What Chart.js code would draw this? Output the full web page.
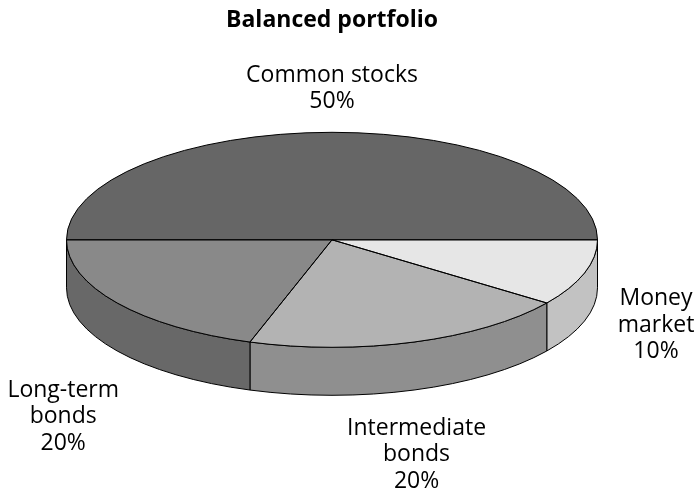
<!DOCTYPE html>
<html><head><meta charset="utf-8">
<script src="https://cdn.jsdelivr.net/npm/chart.js@4/dist/chart.umd.min.js"></script>
<style>html,body{margin:0;padding:0;background:#fff}canvas{display:block}</style>
</head><body>
<canvas id="c" width="699" height="491"></canvas>
<script>
// ---- data ----
const categories = [['Money', 'market'], ['Intermediate', 'bonds'], ['Long-term', 'bonds'], ['Common stocks']];
const shares = [10, 20, 20, 50];
const chartTitle = 'Balanced portfolio';

// ---- style ----
const topColors = ['#e6e6e6', '#b3b3b3', '#898989', '#666666'];
const sideColors = ['#c2c2c2', '#8f8f8f', '#686868', '#4d4d4d'];
const labelNudge = [[71.5, 2.6], [2.5, 63], [-54, 64], [0, -45.7]];
const FONT = "'Open Sans', sans-serif";
const LABEL_SIZE = 23, LINE_H = 26.5, CAP = 0.714 * 23;
const RADIUS = 265.5, TILT = 107.5 / 265.5, DEPTH = 48;

const pie3d = {
  id: 'pie3d',
  beforeDatasetsDraw(chart) {
    const ctx = chart.ctx;
    const arcs = chart.getDatasetMeta(0).data;
    const cx = arcs[0].x, cy = arcs[0].y;
    ctx.save();
    ctx.lineWidth = 1;
    ctx.strokeStyle = '#000';
    arcs.forEach((arc, i) => {
      const R = arc.outerRadius, r2 = R * TILT;
      for (const k of [0, 2 * Math.PI]) {
        const s = Math.max(arc.startAngle, k), e = Math.min(arc.endAngle, k + Math.PI);
        if (e <= s) continue;
        ctx.beginPath();
        ctx.ellipse(cx, cy, R, r2, 0, s, e, false);
        ctx.lineTo(cx + R * Math.cos(e), cy + r2 * Math.sin(e) + DEPTH);
        ctx.ellipse(cx, cy + DEPTH, R, r2, 0, e, s, true);
        ctx.closePath();
        ctx.fillStyle = sideColors[i];
        ctx.fill();
        ctx.stroke();
      }
    });
    ctx.restore();
    // flatten the pie face into an ellipse
    ctx.save();
    ctx.translate(cx, cy);
    ctx.scale(1, TILT);
    ctx.translate(-cx, -cy);
  },
  afterDatasetsDraw(chart) {
    const ctx = chart.ctx;
    ctx.restore();
    const arcs = chart.getDatasetMeta(0).data;
    const cx = arcs[0].x, cy = arcs[0].y;
    const vals = chart.data.datasets[0].data;
    ctx.save();
    ctx.lineWidth = 1;
    ctx.strokeStyle = '#000';
    ctx.lineJoin = 'round';
    arcs.forEach((arc) => {
      const R = arc.outerRadius, r2 = R * TILT;
      ctx.beginPath();
      ctx.moveTo(cx, cy);
      ctx.ellipse(cx, cy, R, r2, 0, arc.startAngle, arc.endAngle, false);
      ctx.closePath();
      ctx.stroke();
    });
    ctx.fillStyle = '#000';
    ctx.textAlign = 'center';
    ctx.textBaseline = 'alphabetic';
    ctx.font = LABEL_SIZE + 'px ' + FONT;
    arcs.forEach((arc, i) => {
      const R = arc.outerRadius, r2 = R * TILT;
      const mid = (arc.startAngle + arc.endAngle) / 2;
      const c = Math.cos(mid), s = Math.sin(mid);
      const ax = cx + R * c, ay = cy + r2 * s + (s > 0 ? DEPTH : 0);
      const lines = [].concat(chart.data.labels[i], vals[i] + '%');
      const bx = ax + labelNudge[i][0], by = ay + labelNudge[i][1];
      lines.forEach((t, j) => {
        ctx.fillText(t, bx, by + (j - (lines.length - 1) / 2) * LINE_H + CAP / 2);
      });
    });
    ctx.restore();
  }
};

new Chart(document.getElementById('c'), {
  type: 'pie',
  data: {
    labels: categories,
    datasets: [{
      data: shares,
      backgroundColor: topColors,
      borderWidth: 0,
      radius: RADIUS,
      clip: false
    }]
  },
  options: {
    responsive: false,
    animation: false,
    events: [],
    rotation: 90,
    layout: { padding: { left: 0, right: 35, top: 0, bottom: 55 } },
    plugins: {
      legend: { display: false },
      tooltip: { enabled: false },
      title: {
        display: true,
        text: chartTitle,
        color: '#000',
        font: { family: FONT, size: 23, weight: 'bold' },
        padding: { top: 7, bottom: 9 }
      }
    }
  },
  plugins: [pie3d]
});
</script>
</body></html>
